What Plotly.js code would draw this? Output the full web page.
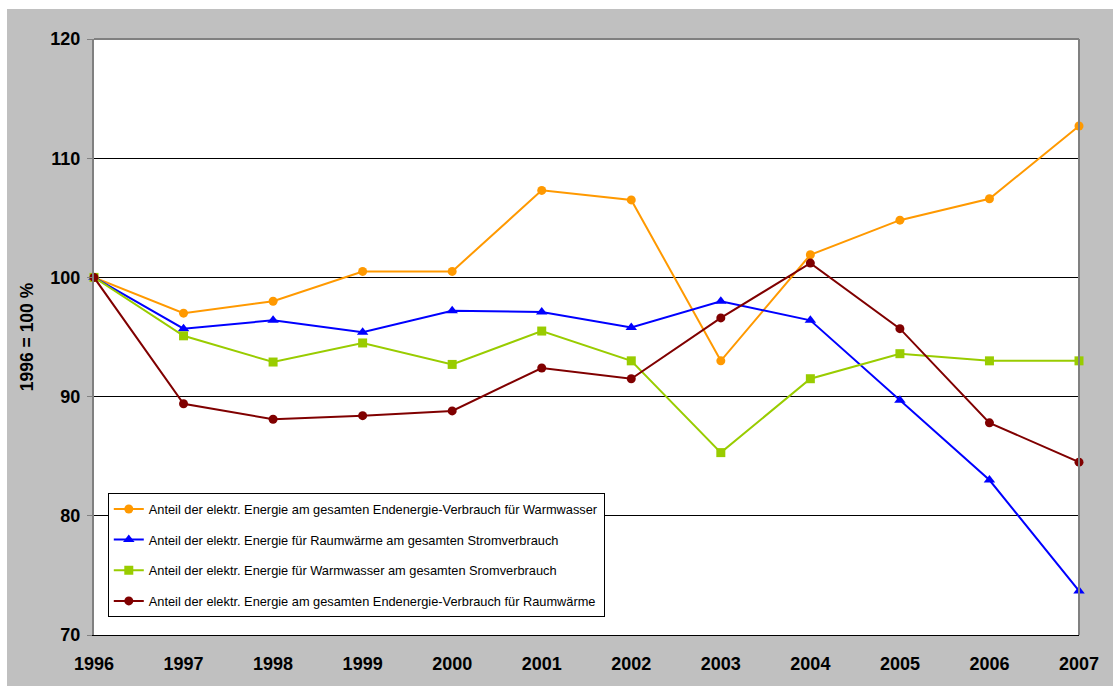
<!DOCTYPE html>
<html>
<head>
<meta charset="utf-8">
<script src="https://cdn.plot.ly/plotly-3.0.1.min.js"></script>
<style>
  body { margin: 0; background: #ffffff; }
  #chart { position: absolute; left: 7px; top: 9px; width: 1106px; height: 677px; }
</style>
</head>
<body>
<div id="chart"></div>
<script>
// years on the x axis
var years = [1996, 1997, 1998, 1999, 2000, 2001, 2002, 2003, 2004, 2005, 2006, 2007];

// index series, 1996 = 100
var warmwasserEnd = [100, 97.0, 98.0, 100.5, 100.5, 107.3, 106.5, 93.0, 101.9, 104.8, 106.6, 112.7];
var raumwaermeStrom = [100, 95.7, 96.4, 95.4, 97.2, 97.1, 95.8, 98.0, 96.4, 89.7, 83.0, 73.7];
var warmwasserStrom = [100, 95.1, 92.9, 94.5, 92.7, 95.5, 93.0, 85.3, 91.5, 93.6, 93.0, 93.0];
var raumwaermeEnd = [100, 89.4, 88.1, 88.4, 88.8, 92.4, 91.5, 96.6, 101.2, 95.7, 87.8, 84.5];

var names = [
  "Anteil der elektr. Energie am gesamten Endenergie-Verbrauch für Warmwasser",
  "Anteil der elektr. Energie für Raumwärme am gesamten Stromverbrauch",
  "Anteil der elektr. Energie für Warmwasser am gesamten Sromverbrauch",
  "Anteil der elektr. Energie am gesamten Endenergie-Verbrauch für Raumwärme"
];

var yTicks = [70, 80, 90, 100, 110, 120];

var baseFont = 'Liberation Sans, Arial, sans-serif';

function makeTrace(y, name, color, symbol, size, group) {
  return {
    x: years,
    y: y,
    name: name,
    type: 'scatter',
    mode: 'lines+markers',
    legendgroup: group,
    line: {color: color, width: 2},
    marker: {color: color, symbol: symbol, size: size},
    cliponaxis: false
  };
}

var data = [
  makeTrace(warmwasserEnd, names[0], '#FF9900', 'circle', 9, 'a'),
  makeTrace(raumwaermeStrom, names[1], '#0000FF', 'triangle-up', 10, 'b'),
  makeTrace(warmwasserStrom, names[2], '#99CC00', 'square', 9, 'c'),
  makeTrace(raumwaermeEnd, names[3], '#800000', 'circle', 9, 'd')
];

var layout = {
  width: 1106,
  height: 677,
  paper_bgcolor: '#C0C0C0',
  plot_bgcolor: '#FFFFFF',
  margin: {l: 87, r: 34, t: 30, b: 51},
  font: {family: baseFont, color: '#000000'},
  showlegend: true,
  legend: {
    x: 0.014, y: 0.238, xanchor: 'left', yanchor: 'top',
    bgcolor: '#FFFFFF', bordercolor: '#000000', borderwidth: 1,
    font: {size: 12.8, family: baseFont},
    traceorder: 'grouped', tracegroupgap: 11, itemwidth: 30
  },
  xaxis: {
    range: [1996, 2007],
    tickvals: years,
    ticktext: years.map(String),
    tickfont: {size: 18, family: baseFont, weight: 'bold'},
    showgrid: false,
    zeroline: false,
    showline: true, linecolor: '#000000', linewidth: 1,
    ticks: '', ticklabelstandoff: 12,
    mirror: false
  },
  yaxis: {
    range: [70, 120],
    tickvals: yTicks,
    tickfont: {size: 18, family: baseFont, weight: 'bold'},
    ticklabelstandoff: 3,
    title: {text: '1996 = 100 %', font: {size: 17.5, family: baseFont, weight: 'bold'}, standoff: 12},
    showgrid: true, gridcolor: '#000000', gridwidth: 1,
    zeroline: false,
    showline: true, linecolor: '#808080', linewidth: 2,
    ticks: 'outside', ticklen: 5, tickcolor: '#808080',
    mirror: false
  },
  shapes: [
    {type: 'line', xref: 'paper', yref: 'paper', x0: 1, x1: 1, y0: 0, y1: 1,
     line: {color: '#808080', width: 2}},
    {type: 'line', xref: 'paper', yref: 'paper', x0: 0, x1: 1, y0: 1, y1: 1,
     line: {color: '#808080', width: 2}}
  ]
};

Plotly.newPlot('chart', data, layout, {displayModeBar: false});
</script>
</body>
</html>
